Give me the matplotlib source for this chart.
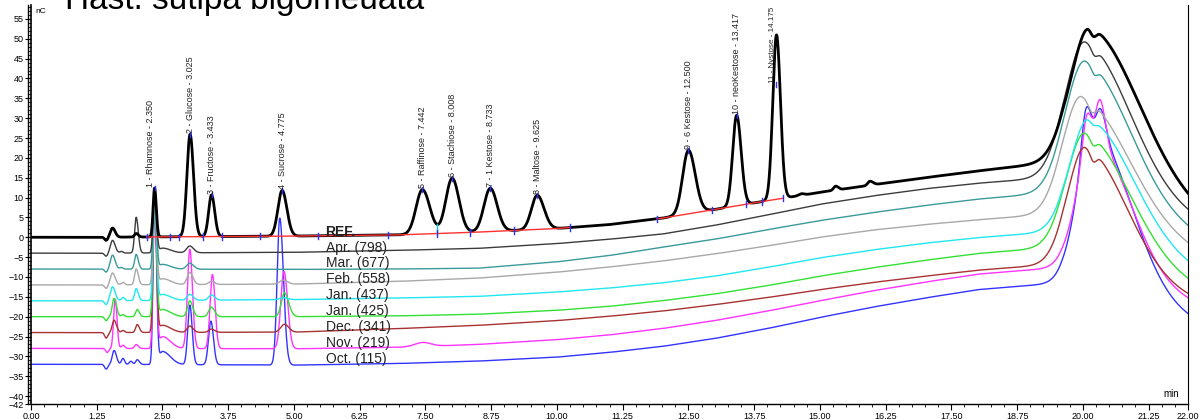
import numpy as np
import matplotlib.pyplot as plt
from matplotlib.ticker import MultipleLocator, FixedLocator
from matplotlib.transforms import ScaledTranslation

plt.rcParams['font.family'] = ['Liberation Sans', 'DejaVu Sans']

# traces (top to bottom)
names = ['REF.', 'Apr. (798)', 'Mar. (677)', 'Feb. (558)', 'Jan. (437)',
         'Jan. (425)', 'Dec. (341)', 'Nov. (219)', 'Oct. (115)']
offsets = [0, -4, -8, -12, -16, -20, -24, -28, -32]
colors = ['#000000', '#3c3c3c', '#3a9a9a', '#a8a8a8', '#20e6f0',
          '#33e033', '#a83232', '#ff33ff', '#3333ff']

# baseline drift, knots in min / nC
knot_t = [0, 1.3, 5, 7, 8.5, 10, 11, 12, 13, 14, 15, 16, 17, 18, 19.6, 22]
base_ref = [0, 0, 0.3, 0.6, 1.3, 2.2, 3.2, 4.8, 7.0, 9.2, 11.3, 13.2, 15.0, 16.7, 19.1, 6]
base_apr = [-4, -4, -3.8, -3.3, -2.8, -1.6, -0.5, 0.8, 3.0, 5.6, 8.3, 10.4, 12.2, 13.6, 15.2, 4.5]
base_mar = [-8, -8, -8.1, -8.0, -7.8, -6.2, -4.6, -2.5, -0.5, 1.9, 4.2, 6.2, 8.0, 9.6, 11.4, 0.5]
base_feb = [-12, -12, -11.8, -11.1, -10.3, -8.8, -7.5, -6.0, -4.2, -2.2, 0.0, 1.8, 3.2, 4.4, 6.0, -3.8]
base_j437 = [-16, -16, -15.7, -15.3, -14.9, -13.8, -12.8, -11.5, -9.8, -7.6, -5.2, -3.2, -1.5, -0.1, 1.5, -8.5]
base_j425 = [-20, -20, -20, -19.8, -19.4, -18.4, -17.4, -16.0, -14.3, -12.2, -9.8, -7.7, -5.8, -4.1, -2.4, -12.5]
base_dec = [-24, -24, -23.9, -23, -22.2, -21, -19.9, -18.6, -17, -15.2, -13.2, -11.4, -9.8, -8.3, -6.7, -15.5]
base_nov = [-28, -28, -28.1, -27.7, -27.0, -25.8, -24.6, -23, -21, -18.6, -16, -13.5, -11.3, -9.3, -7.6, -16.5]
base_oct = [-32, -32, -32.2, -31.8, -31.2, -30.2, -29, -27.5, -25.5, -23, -20.2, -17.6, -15.3, -13.2, -11.5, -21]

# peaks: (time, height, sigma left, sigma right)
peaks_ref = [(1.43, -0.8, .03, .03), (1.55, 2.3, .04, .05), (2.0, 0.9, .03, .04),
             (2.35, 12.3, .028, .032), (3.025, 25.8, .06, .065), (3.433, 10.5, .055, .06),
             (4.775, 11.5, .08, .09), (7.442, 11.2, .12, .14), (8.008, 13.8, .12, .13),
             (8.733, 10.9, .12, .13), (9.625, 8.6, .11, .13), (12.5, 16.0, .11, .13),
             (13.417, 22.8, .075, .085), (14.175, 41.4, .07, .075), (14.65, 0.4, .05, .05),
             (15.3, 1.0, .04, .05), (15.95, 1.0, .04, .06),
             (20.15, 36.8, .37, .93), (20.2, -2.0, .06, .06)]
peaks_apr = [(1.43, -0.8, .03, .03), (1.55, 3.2, .04, .05), (1.72, 0.4, .03, .03),
             (2.0, 9.0, .03, .04), (2.35, 16, .028, .035), (2.5, 1.2, .06, .15),
             (3.02, 1.7, .06, .07), (20.05, 36.0, .37, .85), (20.22, -2.0, .06, .06)]
peaks_mar = [(1.43, -0.8, .03, .03), (1.55, 3.5, .04, .05), (1.72, 0.4, .03, .03),
             (2.0, 3.7, .03, .04), (2.35, 20, .028, .035), (2.5, 1.2, .06, .15),
             (3.02, 1.5, .06, .07), (20.05, 35.0, .37, .85), (20.22, -2.0, .06, .06)]
peaks_feb = [(1.43, -0.9, .03, .03), (1.55, 3.0, .04, .05), (1.75, 0.6, .03, .03),
             (2.0, 4.0, .03, .04), (2.35, 24, .028, .035), (2.5, 1.5, .06, .15),
             (3.02, 3.0, .05, .06), (3.43, 0.8, .05, .06), (4.8, 1.0, .07, .08),
             (19.98, 31.0, .35, .9), (20.17, -2.5, .07, .07)]
peaks_j437 = [(1.43, -1.0, .03, .03), (1.55, 3.5, .04, .05), (1.75, 0.8, .03, .03),
              (2.0, 3.0, .03, .04), (2.35, 28, .028, .035), (2.5, 1.5, .06, .15),
              (3.02, 1.5, .05, .06), (3.43, 1.3, .05, .06), (4.8, 0.5, .07, .08),
              (20.12, 30.4, .35, .85), (20.2, -1.0, .06, .06)]
peaks_j425 = [(1.43, -1.0, .03, .03), (1.58, 4.6, .035, .045), (1.75, 0.5, .03, .03),
              (2.02, 1.8, .03, .04), (2.35, 32, .028, .035), (2.5, 1.8, .06, .15),
              (3.02, 4.0, .045, .055), (3.43, 2.4, .05, .06), (4.82, 6.0, .06, .08),
              (20.05, 30.5, .35, .85), (20.2, -2.0, .06, .06)]
peaks_dec = [(1.43, -1.4, .03, .03), (1.58, 3.1, .035, .045), (1.75, 0.5, .03, .03),
             (2.02, 2.0, .03, .04), (2.35, 36, .028, .035), (2.5, 1.8, .06, .15),
             (3.02, 1.6, .05, .06), (3.43, 0.8, .05, .06), (4.82, 2.0, .07, .08),
             (20.05, 31.0, .33, .78), (20.2, -2.5, .06, .06)]
peaks_nov = [(1.45, -1.0, .03, .03), (1.6, 12.4, .03, .035), (1.75, 0.8, .03, .03),
             (2.0, 1.0, .03, .04), (2.35, 40, .028, .035), (2.5, 3.0, .06, .15),
             (3.02, 25, .045, .05), (3.45, 18.7, .045, .05), (4.81, 19.5, .06, .07),
             (7.45, 1.0, .15, .15), (20.2, 35, .3, .7), (20.07, 8, .08, .08),
             (20.33, 10.5, .08, .1)]
peaks_oct = [(1.43, -1.2, .03, .03), (1.58, 3.5, .035, .045), (1.75, 1.5, .03, .03),
             (1.9, 0.8, .03, .03), (2.02, 1.2, .03, .04), (2.35, 44, .028, .035),
             (2.5, 3.3, .06, .15), (3.02, 15, .04, .045), (3.42, 11, .045, .05),
             (4.73, 37, .05, .07), (20.2, 41, .3, .72), (20.05, 9, .08, .08),
             (20.34, 6.5, .08, .1)]

bases = [base_ref, base_apr, base_mar, base_feb, base_j437, base_j425, base_dec, base_nov, base_oct]
peak_sets = [peaks_ref, peaks_apr, peaks_mar, peaks_feb, peaks_j437, peaks_j425, peaks_dec, peaks_nov, peaks_oct]

# REF peak annotations
peak_names = ['1 - Rhamnose - 2.350', '2 - Glucose - 3.025', '3 - Fructose - 3.433',
              '4 - Sucrose - 4.775', '5 - Raffinose - 7.442', '6 - Stachiose - 8.008',
              '7 - 1 Kestose - 8.733', '8 - Maltose - 9.625', '9 - 6 Kestose - 12.500',
              '10 - neoKestose - 13.417', '11 - Nystose - 14.175']
peak_rt = [2.350, 3.025, 3.433, 4.775, 7.442, 8.008, 8.733, 9.625, 12.500, 13.417, 14.175]

# integration marks on REF
int_marks = [2.2, 2.65, 2.82, 3.27, 3.63, 4.35, 5.45, 6.78, 7.72, 8.35, 9.18, 10.25,
             11.9, 12.95, 13.6, 13.9, 14.3]
drop_lines = [7.72, 8.35]
red_segments = [(2.2, 10.25), (11.9, 14.3)]

t = np.linspace(0, 22, 8801)


def signal(base, peaks, x):
    y = np.interp(x, knot_t, base)
    for rt, h, sl, sr in peaks:
        s = np.where(x < rt, sl, sr)
        y = y + h * np.exp(-0.5 * ((x - rt) / s) ** 2)
    return y


fig = plt.figure(figsize=(12.02, 4.2), dpi=100)
ax = fig.add_axes([31 / 1202, 16 / 420, 1157 / 1202, 399 / 420])

for i in range(len(names) - 1, -1, -1):
    y = signal(bases[i], peak_sets[i], t)
    ax.plot(t, y, color=colors[i], lw=2.0 if i == 0 else 1.0, zorder=2 + (i == 0))

# REF integration details
for a, b in red_segments:
    xs = np.linspace(a, b, 50)
    ax.plot(xs, np.interp(xs, knot_t, base_ref), color='#ff3030', lw=1, zorder=4)
for m in int_marks:
    b = np.interp(m, knot_t, base_ref)
    ax.plot([m, m], [b - 0.8, b + 0.8], color='#3030ff', lw=1, zorder=5)
for d in drop_lines:
    b = np.interp(d, knot_t, base_ref)
    top = signal(base_ref, peaks_ref, np.array([d]))[0]
    ax.plot([d, d], [b, top], color='#00d0e0', lw=1, zorder=4)

for name, rt in zip(peak_names, peak_rt):
    top = signal(base_ref, peaks_ref, np.array([rt]))[0]
    x0 = rt
    fs = 6.5
    if rt == 2.350:
        x0 = rt - 0.08
    if rt == 14.175:
        x0 = rt - 0.08
        top = 38.5
        fs = 5.8
    ax.plot([rt, rt], [top - 0.6, top + 0.6], color='#3030ff', lw=1, zorder=5)
    ax.text(x0, top + 0.3, name, rotation=90, ha='center', va='bottom', fontsize=fs,
            color='#222222', zorder=6)

for i, name in enumerate(names):
    ax.text(5.6, offsets[i] + 1.4, name, fontsize=10, va='center', ha='left',
            fontweight='bold' if i == 0 else 'normal', color='#222222', zorder=6)

ax.set_xlim(0, 22)
ax.set_ylim(-42, 58.5)
ax.xaxis.set_major_locator(FixedLocator([0, 1.25, 2.5, 3.75, 5, 6.25, 7.5, 8.75, 10, 11.25,
                                         12.5, 13.75, 15, 16.25, 17.5, 18.75, 20, 21.25, 22]))
ax.xaxis.set_minor_locator(MultipleLocator(0.25))
ax.set_xticklabels(['%.2f' % v for v in ax.get_xticks()])
ax.yaxis.set_major_locator(FixedLocator([-42] + list(range(-40, 60, 5))))
ax.yaxis.set_minor_locator(MultipleLocator(1))
ax.tick_params(axis='both', which='major', labelsize=6.5, length=4, width=0.8, pad=1.5)
ax.tick_params(axis='both', which='minor', length=2, width=0.6)

ax.spines['top'].set_visible(False)
ax.spines['right'].set_linewidth(0.8)
ax.spines['left'].set_linewidth(1.2)
ax.spines['bottom'].set_linewidth(1.0)
trans = ax.transAxes + ScaledTranslation(-3 / 100, 0, fig.dpi_scale_trans)
ax.plot([0, 0], [0, 1], transform=trans, color='k', lw=1.0, clip_on=False)

ax.text(0.004, 0.992, 'nC', transform=ax.transAxes, fontsize=6, va='top', ha='left')
ax.text(0.992, 0.012, 'min', transform=ax.transAxes, fontsize=7, va='bottom', ha='right')

# title line, cut off at the top edge as in the source screenshot
fig.text(65 / 1202, 1 - 9 / 420, 'Hast. sutipa bigomeuata', fontsize=24, va='baseline', ha='left')

fig.savefig('out.png', dpi=100)
